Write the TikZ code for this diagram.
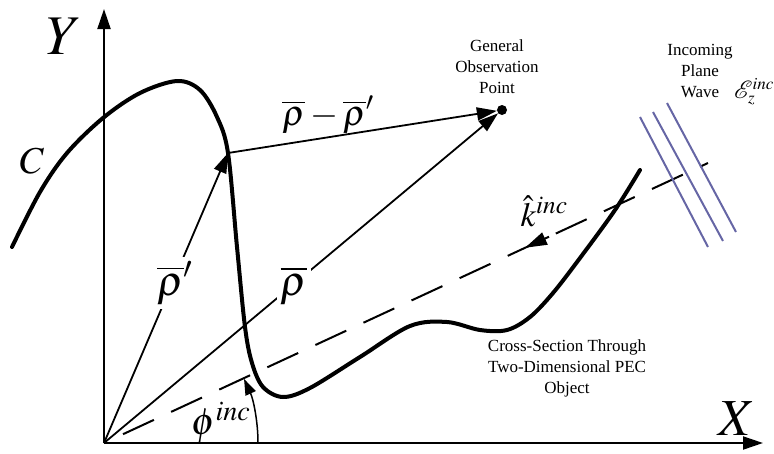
\documentclass[tikz,border=0pt]{standalone}
\usepackage{mathptmx}
\usepackage{mathrsfs}
\usepackage{fontspec}
\setmainfont{Liberation Serif}
\usetikzlibrary{arrows.meta}
\definecolor{wavecol}{RGB}{102,102,165}
\begin{document}
\begin{tikzpicture}[x=1pt,y=-1pt,
  vec/.style={line width=1.8pt,-{Triangle[length=20pt,width=13pt]}},
  axisline/.style={line width=2pt,-{Triangle[length=20pt,width=13pt]}},
  curveC/.style={line width=4pt,line join=round,line cap=round},
  wave/.style={line width=2pt,draw=wavecol},
  lbl/.style={inner sep=0pt},
  txt/.style={font=\fontsize{17}{21}\selectfont,align=center,inner sep=0pt}]
\useasboundingbox (0,0) rectangle (774,453);
\coordinate (O) at (104,443);
\coordinate (Ytip) at (104,9);
\coordinate (Xtip) at (763,443);
\coordinate (P) at (228,153);
\coordinate (kend) at (708,163);
\coordinate (kA) at (549,236.7);
\coordinate (ktip) at (525,247.8);
\coordinate (phistart) at (258,443);
\node[circle,fill,inner sep=0pt,minimum size=10pt] (obs) at (502,110) {};
% curve C
\draw[curveC] plot[smooth,tension=0.55] coordinates {
 (12,247) (40,192) (67,153) (103,118) (140,93) (177,81) (200,90) (217,117)
 (228,153) (237,247) (245,327) (252,363) (263,387) (283,397) (310,388)
 (360,357) (410,326) (447,322) (480,330) (507,330) (530,317) (553,293)
 (580,258) (615,210) (640,170)};
% axes
\draw[axisline] (O) -- (Ytip);
\draw[axisline] (O) -- (Xtip);
% incident direction
\draw[line width=2pt,dash pattern=on 34pt off 19pt,dash phase=32pt] (O) -- (kend);
\draw[line width=2pt,-{Triangle[length=22pt,width=13pt]}] (kA) -- (ktip);
% plane wave
\draw[wave] (640,117) -- (708,247);
\draw[wave] (653,112) -- (723,241);
\draw[wave] (667,103) -- (736,232);
% vectors
\draw[vec] (O) -- (P);
\draw[vec] (O) -- (obs);
\draw[vec] (P) -- (obs);
% angle
\draw[line width=1.5pt,-{Triangle[length=16pt,width=11pt]}] (phistart) arc[start angle=0,end angle=24.6,radius=154pt];
% labels
\node[lbl] (Ylab) at (64,36) {\fontsize{56}{56}\selectfont $Y$};
\node[lbl] (Xlab) at (737,419) {\fontsize{52}{52}\selectfont $X$};
\node[lbl] (Clab) at (32,161) {\fontsize{38}{38}\selectfont $C$};
\node[lbl,fill=white,inner sep=4pt] (rhoplab) at (175,283) {\fontsize{42}{42}\selectfont $\overline{\rho}'$};
\node[lbl,fill=white,inner sep=4pt] (rholab) at (294,286) {\fontsize{42}{42}\selectfont $\overline{\rho}$};
\node[lbl] (difflab) at (328,115) {\fontsize{36}{36}\selectfont $\overline{\rho}-\overline{\rho}'$};
\node[lbl] (klab) at (544,211) {\fontsize{34}{34}\selectfont $\hat{k}^{inc}$};
\node[lbl] (philab) at (221,423) {\fontsize{38}{38}\selectfont $\phi^{inc}$};
\node[lbl] (Elab) at (754,92) {\fontsize{23}{23}\selectfont $\mathscr{E}_z^{inc}$};
\node[txt] (obstext) at (497,67) {General\\Observation\\Point};
\node[txt] (wavetext) at (700,71) {Incoming\\Plane\\Wave};
\node[txt] (objtext) at (567,368) {Cross-Section Through\\Two-Dimensional PEC\\Object};
\end{tikzpicture}
\end{document}
